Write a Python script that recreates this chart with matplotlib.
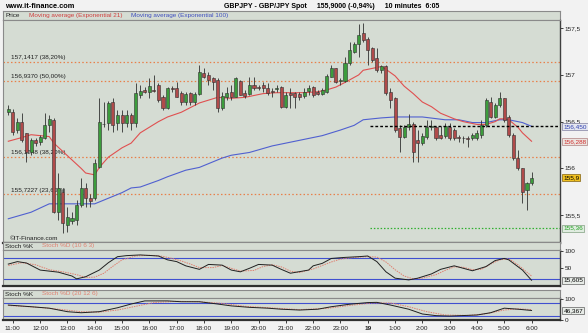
import matplotlib
matplotlib.use("Agg")
import matplotlib.pyplot as plt
import matplotlib.transforms as mtransforms

plt.rcParams['font.family'] = ['Liberation Sans', 'DejaVu Sans']

# 10-minute candles, GBP/JPY
opens = [156.60, 156.60, 156.41, 156.50, 156.38, 156.17, 156.30, 156.28, 156.32, 156.46,
         156.52, 155.53, 155.75, 155.39, 155.44, 155.45, 155.61, 155.79, 155.68, 155.68,
         156.01, 156.48, 156.49, 156.71, 156.49, 156.57, 156.49, 156.57, 156.49, 156.79,
         156.84, 156.82, 156.84, 156.89, 156.76, 156.65, 156.86, 156.86, 156.81, 156.71,
         156.81, 156.71, 156.80, 157.02, 157.00, 156.97, 156.95, 156.65, 156.76, 156.82,
         156.76, 156.93, 156.81, 156.80, 156.89, 156.87, 156.89, 156.86, 156.83, 156.85,
         156.87, 156.66, 156.81, 156.81, 156.80, 156.77, 156.83, 156.87, 156.82, 156.80,
         156.82, 156.98, 157.07, 156.94, 156.94, 157.13, 157.25, 157.33, 157.45, 157.39,
         157.29, 157.18, 157.05, 157.10, 156.82, 156.75, 156.43, 156.34, 156.44, 156.48,
         156.30, 156.27, 156.34, 156.44, 156.44, 156.36, 156.35, 156.44, 156.41, 156.34,
         156.33, 156.32, 156.32, 156.32, 156.36, 156.46, 156.71, 156.55, 156.68, 156.75,
         156.55, 156.36, 156.11, 156.00, 155.77, 155.84]
highs = [156.68, 156.64, 156.54, 156.59, 156.38, 156.32, 156.32, 156.36, 156.59, 156.57,
         156.54, 155.95, 155.79, 155.59, 155.53, 155.66, 155.90, 155.84, 155.73, 156.10,
         156.75, 156.71, 156.72, 156.75, 156.62, 156.62, 156.62, 156.59, 156.91, 156.89,
         156.87, 156.97, 157.00, 156.91, 156.79, 156.87, 156.88, 156.92, 156.83, 156.82,
         156.82, 156.82, 157.11, 157.07, 157.03, 156.98, 156.97, 156.82, 156.87, 156.89,
         156.98, 156.95, 156.84, 156.98, 156.98, 156.89, 156.92, 156.91, 156.86, 156.89,
         156.88, 156.82, 156.86, 156.82, 156.82, 156.86, 156.89, 156.88, 156.84, 156.86,
         157.01, 157.11, 157.07, 156.97, 157.19, 157.35, 157.35, 157.54, 157.56, 157.41,
         157.30, 157.29, 157.11, 157.11, 156.86, 156.76, 156.46, 156.46, 156.58, 156.50,
         156.41, 156.38, 156.52, 156.52, 156.45, 156.45, 156.49, 156.49, 156.43, 156.36,
         156.35, 156.35, 156.38, 156.41, 156.52, 156.75, 156.76, 156.70, 156.82, 156.75,
         156.57, 156.38, 156.20, 156.00, 155.85, 155.96]
lows = [156.57, 156.36, 156.38, 156.28, 156.07, 156.14, 156.24, 156.25, 156.31, 156.39,
        155.52, 155.45, 155.31, 155.32, 155.40, 155.39, 155.59, 155.59, 155.59, 155.66,
        156.00, 156.44, 156.41, 156.39, 156.41, 156.39, 156.44, 156.41, 156.44, 156.75,
        156.81, 156.75, 156.82, 156.71, 156.62, 156.64, 156.82, 156.76, 156.68, 156.68,
        156.68, 156.68, 156.79, 156.97, 156.89, 156.84, 156.60, 156.62, 156.73, 156.73,
        156.76, 156.78, 156.75, 156.79, 156.84, 156.84, 156.82, 156.79, 156.76, 156.82,
        156.65, 156.65, 156.65, 156.65, 156.73, 156.75, 156.79, 156.76, 156.78, 156.79,
        156.81, 156.98, 156.91, 156.89, 156.92, 157.11, 157.24, 157.19, 157.35, 157.11,
        157.14, 157.03, 157.02, 156.79, 156.65, 156.39, 156.18, 156.32, 156.41, 156.07,
        156.07, 156.25, 156.31, 156.41, 156.30, 156.31, 156.33, 156.30, 156.30, 156.28,
        156.27, 156.23, 156.30, 156.30, 156.33, 156.44, 156.54, 156.54, 156.66, 156.50,
        156.34, 156.09, 155.98, 155.63, 155.55, 155.82]
closes = [156.63, 156.39, 156.50, 156.30, 156.17, 156.30, 156.27, 156.34, 156.46, 156.53,
          155.53, 155.79, 155.41, 155.48, 155.47, 155.61, 155.79, 155.68, 155.65, 156.06,
          156.50, 156.47, 156.70, 156.46, 156.57, 156.49, 156.57, 156.49, 156.81, 156.83,
          156.82, 156.88, 156.83, 156.73, 156.65, 156.86, 156.85, 156.76, 156.71, 156.80,
          156.71, 156.80, 157.03, 156.98, 156.95, 156.92, 156.65, 156.77, 156.81, 156.76,
          156.97, 156.79, 156.77, 156.89, 156.86, 156.86, 156.86, 156.81, 156.82, 156.86,
          156.66, 156.79, 156.79, 156.76, 156.76, 156.82, 156.86, 156.78, 156.80, 156.84,
          156.99, 157.07, 156.92, 156.95, 157.13, 157.27, 157.33, 157.43, 157.37, 157.27,
          157.16, 157.05, 157.10, 156.81, 156.73, 156.41, 156.34, 156.44, 156.48, 156.18,
          156.27, 156.35, 156.44, 156.45, 156.32, 156.33, 156.45, 156.32, 156.33, 156.33,
          156.32, 156.31, 156.36, 156.38, 156.46, 156.73, 156.55, 156.68, 156.75, 156.52,
          156.36, 156.11, 156.00, 155.75, 155.84, 155.90]

# moving averages sampled along the curves (candle index, price)
ema21_idx = [0, 3, 5, 9, 10, 12, 14, 16, 17, 19, 20, 22, 25, 27, 29, 31, 33, 35, 38, 40,
             42, 44, 46, 49, 52, 56, 59, 65, 68, 70, 72, 74, 77, 78, 80, 82, 83, 85, 87, 89,
             91, 93, 95, 98, 100, 103, 105, 107, 108, 109, 110, 112, 113, 115]
ema21_val = [156.29, 156.33, 156.36, 156.34, 156.27, 156.18, 156.09, 156.00, 155.95, 155.93,
             156.01, 156.12, 156.22, 156.27, 156.38, 156.44, 156.50, 156.55, 156.60, 156.65,
             156.70, 156.73, 156.76, 156.75, 156.76, 156.80, 156.81, 156.81, 156.82, 156.84,
             156.87, 156.92, 157.00, 157.05, 157.07, 157.09, 157.06, 156.99, 156.88, 156.80,
             156.71, 156.66, 156.59, 156.53, 156.50, 156.47, 156.47, 156.50, 156.53, 156.53,
             156.52, 156.44, 156.38, 156.29]
ema100_idx = [0, 5, 9, 19, 20, 22, 25, 27, 29, 33, 35, 39, 42, 47, 49, 53, 58, 64, 69, 73,
              76, 78, 82, 85, 91, 96, 99, 102, 105, 108, 110, 113, 115]
ema100_val = [155.46, 155.53, 155.62, 155.62, 155.64, 155.68, 155.74, 155.79, 155.80, 155.87,
              155.91, 155.98, 156.01, 156.11, 156.14, 156.17, 156.24, 156.30, 156.35, 156.41,
              156.46, 156.52, 156.54, 156.55, 156.55, 156.52, 156.52, 156.49, 156.49, 156.52,
              156.52, 156.49, 156.45]

fib_levels = [157.1417, 156.9370, 156.1248, 155.7227]
fib_labels = ['157,1417 (38,20%)', '156,9370 (50,00%)', '156,1248 (38,20%)', '155,7227 (23,60%)']
pivot_level = 156.45
support_level = 155.36
ema100_last, ema21_last, last_price = 156.450, 156.288, 155.9

# stochastic (10 6 3)
st1_k_idx = [0, 2, 4, 7, 9, 11, 14, 15, 17, 20, 22, 24, 26, 29, 33, 35, 37, 39, 42, 44,
             47, 49, 51, 53, 55, 58, 60, 62, 66, 67, 69, 71, 74, 77, 79, 81, 83, 85, 88, 90,
             93, 95, 98, 100, 102, 105, 107, 109, 110, 113, 115]
st1_k_val = [62, 69, 65, 45, 42, 39, 28, 20, 26, 45, 66, 83, 86, 88, 85, 74, 69, 57, 47, 61,
             59, 45, 40, 50, 61, 59, 47, 36, 45, 57, 64, 78, 81, 83, 85, 69, 40, 22, 17, 22,
             34, 47, 57, 50, 43, 55, 72, 78, 74, 45, 16]
st1_d_idx = [0, 3, 6, 9, 12, 15, 17, 19, 21, 23, 25, 28, 31, 34, 36, 38, 40, 42, 45, 47,
             49, 51, 54, 56, 58, 60, 62, 64, 67, 69, 71, 73, 76, 79, 81, 83, 85, 87, 89, 91,
             94, 96, 98, 100, 102, 104, 106, 108, 110, 112, 115]
st1_d_val = [58, 66, 60, 46, 40, 32, 24, 25, 36, 56, 74, 85, 87, 84, 78, 71, 62, 52, 52, 58,
             50, 42, 44, 55, 60, 54, 42, 38, 48, 58, 68, 76, 81, 83, 82, 68, 46, 28, 20, 22,
             32, 44, 54, 53, 46, 47, 62, 74, 77, 60, 28]
st1_last = '15,605'

# stochastic (20 12 6)
st2_k_idx = [0, 5, 9, 13, 16, 20, 24, 27, 30, 35, 38, 42, 46, 49, 53, 57, 60, 64, 68, 71,
             75, 79, 81, 84, 88, 91, 94, 97, 103, 106, 109, 112, 115]
st2_k_val = [72, 64, 57, 40, 35, 40, 59, 77, 92, 92, 88, 88, 77, 68, 61, 57, 52, 48, 52, 64,
             76, 84, 85, 72, 52, 29, 21, 19, 24, 35, 57, 52, 46]
st2_d_idx = [0, 6, 11, 16, 20, 24, 28, 32, 37, 42, 47, 52, 58, 64, 70, 75, 80, 84, 88, 92,
             96, 101, 105, 109, 112, 115]
st2_d_val = [70, 62, 52, 40, 38, 48, 66, 84, 90, 88, 80, 66, 58, 50, 56, 70, 82, 82, 64, 40,
             24, 22, 30, 48, 54, 50]
st2_last = '46,367'

tick_idx = [1, 7, 13, 19, 25, 31, 37, 43, 49, 55, 61, 67, 73, 79, 85, 91, 97, 103, 109, 115]
tick_lab = ['11:00', '12:00', '13:00', '14:00', '15:00', '16:00', '17:00', '18:00', '19:00',
            '20:00', '21:00', '22:00', '23:00', '19', '1:00', '2:00', '3:00', '4:00', '5:00', '6:00']

W, H = 588, 333
BG = '#d5dcd3'
FIGBG = '#f2f2f2'
GREEN = '#3c9c3c'
RED = '#b04a4a'
EDGE = '#303030'
FS = 4.6

fig = plt.figure(figsize=(W / 100, H / 100), dpi=100, facecolor=FIGBG)


def px_axes(x0, y0, x1, y1):
    return fig.add_axes([x0 / W, 1 - y1 / H, (x1 - x0) / W, (y1 - y0) / H])


XL = ((3 - 8.3) / 4.55, (560 - 8.3) / 4.55)


def style_panel(ax):
    ax.set_facecolor(BG)
    ax.set_xlim(*XL)
    ax.set_xticks([])
    for s in ['left', 'top']:
        ax.spines[s].set_color('#8a8a8a')
        ax.spines[s].set_linewidth(0.8)
    ax.spines['right'].set_color('#404040')
    ax.spines['right'].set_linewidth(1.0)
    ax.spines['bottom'].set_color('#303030')
    ax.spines['bottom'].set_linewidth(1.6)
    ax.yaxis.tick_right()
    ax.tick_params(axis='y', length=2.5, width=0.6, pad=1, labelsize=FS, colors='#202020')


def header(y0, y1, parts):
    hx = px_axes(3, y0, 560, y1)
    hx.set_facecolor(BG)
    hx.set_xticks([])
    hx.set_yticks([])
    for s in hx.spines.values():
        s.set_color('#8a8a8a')
        s.set_linewidth(0.8)
    x = 0.004
    for txt, col in parts:
        t = hx.text(x, 0.5, txt, color=col, fontsize=FS, va='center', ha='left', transform=hx.transAxes)
        fig.canvas.draw()
        bb = t.get_window_extent()
        x += (bb.width + 9) / hx.bbox.width


# title row
fig.text(5 / W, 1 - 6 / H, 'www.it-finance.com', fontsize=5.3, fontweight='bold', va='center', ha='left')
fig.text(224 / W, 1 - 6 / H, 'GBPJPY - GBP/JPY Spot     155,9000 (-0,94%)     10 minutes  6:05',
         fontsize=5.0, fontweight='bold', va='center', ha='left')

# price panel
header(11, 20, [('Price', '#202020'), ('Moving average (Exponential 21)', '#d04040'),
                ('Moving average (Exponential 100)', '#4050c0')])
ax = px_axes(3, 20, 560, 243)
style_panel(ax)
ax.set_ylim(157.1417 - (243 - 61.7) / 93.4, 157.1417 - (20 - 61.7) / 93.4)
ax.set_yticks([155.5, 156, 156.5, 157, 157.5])
ax.set_yticklabels(['155,5', '156', '156,5', '157', '157,5'])

for lv, lb in zip(fib_levels, fib_labels):
    ax.axhline(lv, color='#e8804a', lw=0.9, ls=(0, (1.2, 1.8)), zorder=1)
    ax.text(0.5, lv + 0.015, lb, fontsize=FS, color='#202020', va='bottom', ha='left', zorder=1)
ax.plot([79.5, XL[1]], [pivot_level, pivot_level], color='black', lw=1.0, ls=(0, (2, 1.5)), zorder=4)
ax.plot([79.5, XL[1]], [support_level, support_level], color='#30b030', lw=0.9, ls=(0, (1.2, 1.5)), zorder=1)

ax.plot(ema100_idx, ema100_val, color='#5060d0', lw=0.8, zorder=2)
ax.plot(ema21_idx, ema21_val, color='#e05050', lw=0.8, zorder=2)

idx = list(range(len(opens)))
ax.vlines(idx, lows, highs, color=EDGE, lw=0.6, zorder=3)
cols = [GREEN if c >= o else RED for o, c in zip(opens, closes)]
bot = [min(o, c) for o, c in zip(opens, closes)]
hgt = [max(abs(c - o), 0.004) for o, c in zip(opens, closes)]
ax.bar(idx, hgt, bottom=bot, width=0.66, color=cols, edgecolor=EDGE, linewidth=0.4, zorder=3)

ax.text(0.4, 155.22, '\u00a9IT-Finance.com', fontsize=FS, color='#202020', va='bottom', ha='left')

tr = mtransforms.blended_transform_factory(ax.transAxes, ax.transData)
ax.text(1.006, ema100_last, '156,450', transform=tr, fontsize=FS, color='#3040b0', va='center', ha='left',
        bbox=dict(boxstyle='square,pad=0.15', fc='#e4e6f0', ec='#8080a0', lw=0.5))
ax.text(1.006, ema21_last, '156,288', transform=tr, fontsize=FS, color='#d03030', va='center', ha='left',
        bbox=dict(boxstyle='square,pad=0.15', fc='#ece4e0', ec='#b08080', lw=0.5))
ax.text(1.006, last_price, '155,9', transform=tr, fontsize=FS, color='black', va='center', ha='left',
        bbox=dict(boxstyle='square,pad=0.15', fc='#f0c020', ec='#806010', lw=0.5))
ax.text(1.006, support_level, '155,36', transform=tr, fontsize=FS, color='#20a020', va='center', ha='left',
        bbox=dict(boxstyle='square,pad=0.15', fc='#e0ece0', ec='#80a080', lw=0.5))

# stochastic 1
header(242, 250, [('Stoch %K', '#202020'), ('Stoch %D (10 6 3)', '#e08070')])
s1 = px_axes(3, 250, 560, 286)
style_panel(s1)
s1.set_ylim(-0.3, 102)
s1.set_yticks([50, 100])
s1.set_yticklabels(['50', '100'])
for lv in (20, 80):
    s1.axhline(lv, color='#4050d0', lw=0.8, zorder=1)
s1.plot(st1_d_idx, st1_d_val, color='#e08070', lw=0.7, ls=(0, (1.5, 1)), zorder=2)
s1.plot(st1_k_idx, st1_k_val, color='#202020', lw=0.7, zorder=3)
tr1 = mtransforms.blended_transform_factory(s1.transAxes, s1.transData)
s1.text(1.006, st1_k_val[-1], st1_last, transform=tr1, fontsize=FS, color='black', va='center', ha='left',
        bbox=dict(boxstyle='square,pad=0.15', fc='#e8ece8', ec='#606060', lw=0.5))

# stochastic 2
header(290, 298, [('Stoch %K', '#202020'), ('Stoch %D (20 12 6)', '#e08070')])
s2 = px_axes(3, 298, 560, 320)
style_panel(s2)
s2.set_ylim(0, 106)
s2.set_yticks([0, 100])
s2.set_yticklabels(['0', '100'])
for lv in (20, 80):
    s2.axhline(lv, color='#4050d0', lw=0.8, zorder=1)
s2.plot(st2_d_idx, st2_d_val, color='#e08070', lw=0.7, ls=(0, (1.5, 1)), zorder=2)
s2.plot(st2_k_idx, st2_k_val, color='#202020', lw=0.7, zorder=3)
tr2 = mtransforms.blended_transform_factory(s2.transAxes, s2.transData)
s2.text(1.006, st2_k_val[-1], st2_last, transform=tr2, fontsize=FS, color='black', va='center', ha='left',
        bbox=dict(boxstyle='square,pad=0.15', fc='#e8ece8', ec='#606060', lw=0.5))

s2.set_xticks(tick_idx)
s2.set_xticklabels(tick_lab)
s2.tick_params(axis='x', length=2, width=0.6, pad=2, labelsize=FS, colors='#202020')
for lab in s2.get_xticklabels():
    if lab.get_text() == '19':
        lab.set_fontweight('bold')

fig.savefig('out.png', dpi=100, facecolor=FIGBG)
